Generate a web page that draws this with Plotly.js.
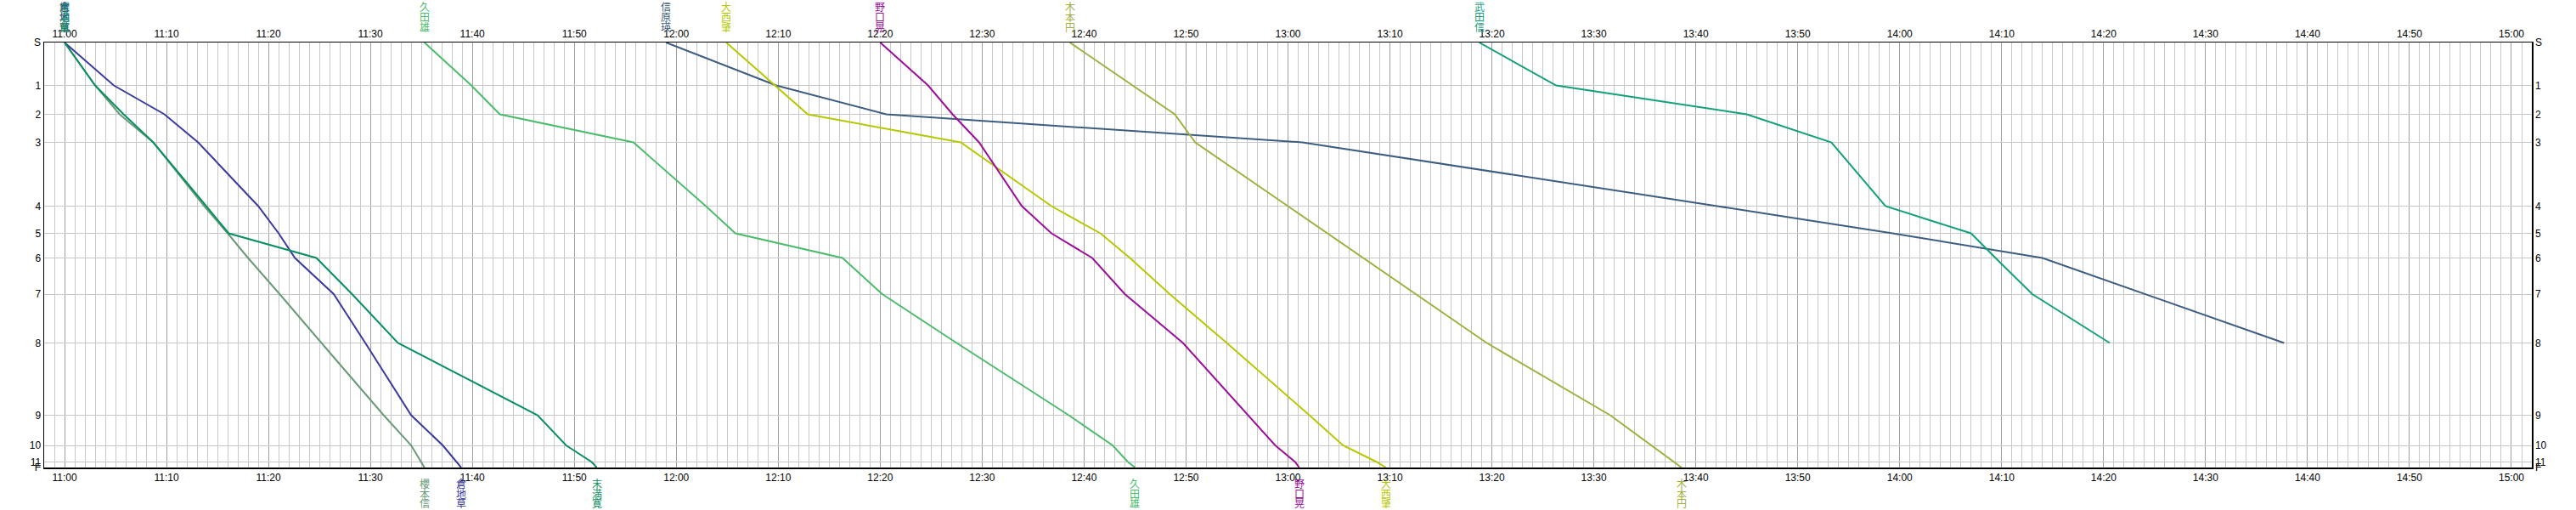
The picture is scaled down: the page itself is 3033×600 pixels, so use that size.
<!DOCTYPE html>
<html>
<head>
<meta charset="utf-8">
<script src="https://cdn.plot.ly/plotly-3.0.1.min.js"></script>
<style>
html,body{margin:0;padding:0;background:#fff;}
#chart{width:3033px;height:600px;}
</style>
</head>
<body>
<div id="chart"></div>
<script>
// Station labels and their distance positions (0 = S, 100 = F)
const stationLabels = ["S","1","2","3","4","5","6","7","8","9","10","11","F"];
const stationDist   = [0, 10.1, 16.9, 23.5, 38.5, 44.9, 50.7, 59.2, 70.7, 87.7, 94.8, 98.7, 100];

// Runners (names) and colors
const runnerNames  = ["櫻本信","倉地草","末満寛","久田雄","信原瑛","大西肇","野口晃","木本円","武田信"];
const runnerColors = ["#6a9a78","#3a3aa0","#0a9060","#4cbb6c","#3d5d80","#b5c800","#9b109b","#9fb040","#14a07a"];

// Passing times at each station (S,1..11,F); shorter lists = did not reach F
const t_sakuramoto = ["11:00:00","11:03:00","11:05:24","11:08:42","11:13:42","11:16:00","11:18:00","11:21:06","11:25:12","11:31:18","11:34:00","11:35:00","11:35:18"];
const t_kurachi    = ["11:00:00","11:04:50","11:09:48","11:13:06","11:19:00","11:21:00","11:22:36","11:26:24","11:29:30","11:34:00","11:37:06","11:38:24","11:38:54"];
const t_suemitsu   = ["11:00:00","11:03:00","11:05:48","11:08:42","11:13:54","11:16:06","11:24:42","11:28:12","11:32:42","11:46:24","11:49:12","11:51:42","11:52:12"];
const t_hisada     = ["11:35:18","11:39:54","11:42:42","11:55:48","12:02:54","12:05:48","12:16:18","12:20:12","12:27:30","12:38:30","12:42:48","12:44:18","12:45:00"];
const t_nobuhara   = ["11:59:00","12:09:48","12:20:36","13:01:24","13:42:06","13:59:18","14:14:00","14:24:00","14:37:42"];
const t_onishi     = ["12:04:54","12:09:42","12:12:54","12:27:54","12:36:48","12:41:36","12:44:30","12:48:24","12:54:00","13:02:06","13:05:24","13:08:42","13:09:36"];
const t_noguchi    = ["12:20:00","12:24:42","12:27:06","12:29:42","12:33:54","12:36:48","12:40:48","12:44:00","12:49:42","12:56:06","12:58:45","13:00:42","13:01:06"];
const t_kimoto     = ["12:38:36","12:44:42","12:48:54","12:50:54","13:00:00","13:03:54","13:07:24","13:12:36","13:19:30","13:31:36","13:35:36","13:37:54","13:38:36"];
const t_takeda     = ["13:18:45","13:26:18","13:45:00","13:53:18","13:58:36","14:07:00","14:09:24","14:13:00","14:20:36"];

const runnerTimes = [t_sakuramoto,t_kurachi,t_suemitsu,t_hisada,t_nobuhara,t_onishi,t_noguchi,t_kimoto,t_takeda];

const DAY = "2000-01-01 ";
const xRange = [DAY+"10:58:00", DAY+"15:02:00"];

const traces = [];
runnerTimes.forEach((times, i) => {
  traces.push({
    type: "scatter", mode: "lines",
    x: times.map(t => DAY + t),
    y: stationDist.slice(0, times.length),
    line: {color: runnerColors[i], width: 2},
    name: runnerNames[i], showlegend: false, hoverinfo: "skip"
  });
});
// anchor trace for the mirrored axes
traces.push({type:"scatter", mode:"markers", x:[DAY+"11:00:00"], y:[0], xaxis:"x2", yaxis:"y2",
  marker:{opacity:0}, showlegend:false, hoverinfo:"skip"});

// vertical name labels (start at top, finish at bottom)
const annotations = [];
const topShift = [42.5, 30.5, 18.5];
const botShift = [-18.5, -30, -41.5];
runnerTimes.forEach((times, i) => {
  const chars = Array.from(runnerNames[i]);
  chars.forEach((ch, k) => {
    annotations.push({x: DAY+times[0], xref:"x", y:1, yref:"paper", yanchor:"middle", xanchor:"center",
      yshift: topShift[k], text: ch, showarrow:false,
      font:{family:"Noto Sans CJK JP", size:12, color: runnerColors[i]}});
  });
  if (times.length === stationDist.length) {
    chars.forEach((ch, k) => {
      annotations.push({x: DAY+times[times.length-1], xref:"x", y:0, yref:"paper", yanchor:"middle", xanchor:"center",
        yshift: botShift[k], text: ch, showarrow:false,
        font:{family:"Noto Sans CJK JP", size:12, color: runnerColors[i]}});
    });
  }
});

const tickFont = {family:"Liberation Sans, Arial, sans-serif", size:12, color:"#000"};
const xBase = {
  type:"date", range:xRange, tickformat:"%H:%M", dtick:600000, tick0:DAY+"11:00:00",
  showgrid:true, gridcolor:"#a0a0a0", gridwidth:1,
  minor:{dtick:60000, tick0:DAY+"11:00:00", showgrid:true, gridcolor:"#c8c8c8", gridwidth:1, ticks:""},
  showline:true, linecolor:"#000", linewidth:1.5, ticks:"", zeroline:false,
  tickfont:tickFont, fixedrange:true
};
const yBase = {
  range:[100,0], tickmode:"array", tickvals:stationDist, ticktext:stationLabels,
  showgrid:true, gridcolor:"#c8c8c8", gridwidth:1,
  showline:true, linecolor:"#000", linewidth:1.5, ticks:"", zeroline:false,
  tickfont:tickFont, fixedrange:true
};

const layout = {
  width:3033, height:600,
  margin:{l:52, r:52, t:50, b:50, pad:0},
  paper_bgcolor:"#fff", plot_bgcolor:"#fff",
  showlegend:false,
  xaxis: Object.assign({}, xBase, {side:"bottom", anchor:"y"}),
  xaxis2: Object.assign({}, xBase, {side:"top", overlaying:"x", anchor:"y", matches:"x", showgrid:false, minor:{showgrid:false}}),
  yaxis: Object.assign({}, yBase, {side:"left", anchor:"x"}),
  yaxis2: Object.assign({}, yBase, {side:"right", overlaying:"y", anchor:"x", matches:"y", showgrid:false}),
  annotations: annotations
};

Plotly.newPlot("chart", traces, layout, {displayModeBar:false, staticPlot:true});
</script>
</body>
</html>
